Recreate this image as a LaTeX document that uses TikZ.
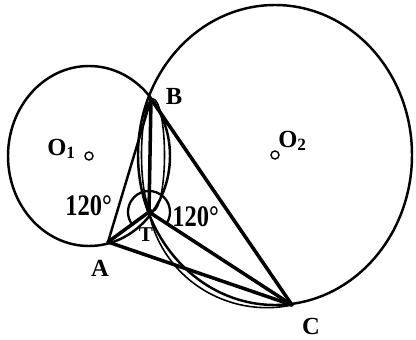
\documentclass[tikz,border=0pt]{standalone}
\usepackage{fontspec}
\setmainfont{Liberation Serif}
\usepackage{tikz}

\begin{document}
\begin{tikzpicture}[x=0.02cm, y=0.02cm,
    thickline/.style={line width=2pt, line cap=round, line join=round},
    circline/.style={line width=1.4pt},
    thinline/.style={line width=0.9pt},
    lab/.style={font=\fontsize{14}{14}\selectfont\bfseries, inner sep=0pt},
    anglab/.style={font=\fontsize{17}{17}\selectfont\bfseries, inner sep=0pt, xscale=0.82}]
    \useasboundingbox (0,0) rectangle (416,339);
    % points
    \coordinate (A) at (108,97);
    \coordinate (B) at (151,240);
    \coordinate (C) at (292,34);
    \coordinate (T) at (149,127);
    \coordinate (O1) at (89,183);
    \coordinate (O2) at (275,184);
    % circles
    \draw[circline] (O1) ellipse [x radius=81, y radius=90];
    \draw[circline] (O2) ellipse [x radius=137, y radius=150];
    \draw[thinline] (153,184) ellipse [x radius=11.5, y radius=56];
    \foreach \o in {O1,O2} \draw[line width=0.8pt] (\o) circle (4);
    % triangle and the lines to T
    \draw[circline] (A) -- (B);
    \draw[thickline] (B) -- (C) -- (A);
    \foreach \p in {A,B,C} \draw[thickline] (T) -- (\p);
    \draw[thinline] (T) to[out=-79, in=192] (C);
    \draw[line width=1.3pt] (T) ++(-33:21) arc[start angle=-33, end angle=216, radius=21];
    % labels
    \node[lab] (labA) at (100,71) {A};
    \node[lab] (labB) at (174,243) {B};
    \node[lab] (labC) at (311,13) {C};
    \node[lab, font=\fontsize{12}{12}\selectfont\bfseries] (labT) at (146,104) {T};
    \node[lab, anchor=base west] (labO1) at (47,184) {O$_{\mathbf{1}}$};
    \node[lab, anchor=base west] (labO2) at (278,192) {O$_{\mathbf{2}}$};
    \node[anglab, anchor=base west] (angL) at (65,124) {120°};
    \node[anglab, anchor=base west] (angR) at (172,113) {120°};
\end{tikzpicture}
\end{document}
